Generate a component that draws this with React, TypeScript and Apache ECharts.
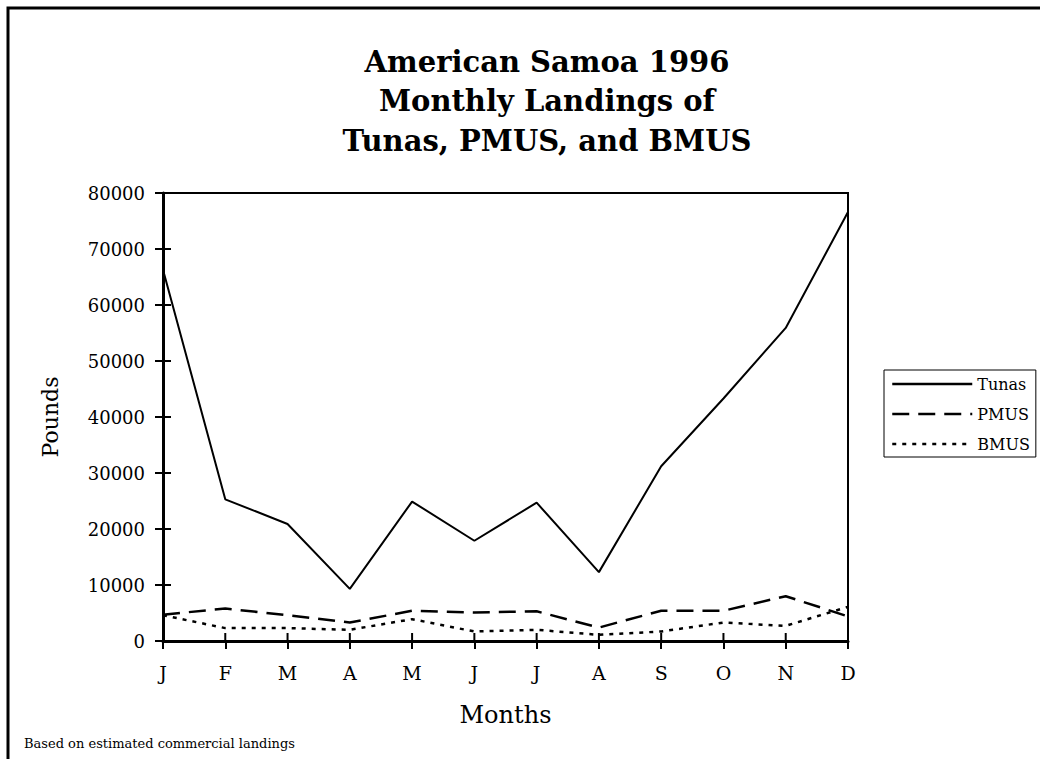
import React, { useEffect, useRef } from "react";
import * as echarts from "echarts";

const months = ["J", "F", "M", "A", "M", "J", "J", "A", "S", "O", "N", "D"];
const tunas = [66300, 25300, 20900, 9300, 24900, 17900, 24700, 12300, 31200, 43300, 55900, 76600];
const pmus = [4700, 5800, 4600, 3300, 5400, 5100, 5300, 2400, 5400, 5400, 8000, 4400];
const bmus = [4600, 2300, 2300, 2000, 3900, 1700, 2000, 1100, 1700, 3300, 2700, 6100];
const yTickValues = [0, 10000, 20000, 30000, 40000, 50000, 60000, 70000, 80000];
const titleText = "American Samoa 1996\nMonthly Landings of\nTunas, PMUS, and BMUS";
const footnote = "Based on estimated commercial landings";

const SERIF = "DejaVu Serif";

export default function App() {
  const ref = useRef<HTMLDivElement>(null);
  useEffect(() => {
    if (!ref.current) return;
    const chart = echarts.init(ref.current, null, { renderer: "svg" });
    const grid = { left: 163, top: 193, width: 685, height: 448 };
    const yMin = yTickValues[0];
    const yMax = yTickValues[yTickValues.length - 1];
    const yInterval = yTickValues[1] - yTickValues[0];
    const TICK_IN = 8;
    chart.setOption({
      animation: false,
      backgroundColor: "#fff",
      title: {
        text: titleText,
        left: 542,
        top: 37,
        textAlign: "center",
        textStyle: {
          fontFamily: SERIF,
          fontWeight: "bold",
          fontSize: 29,
          lineHeight: 39.5,
          color: "#000",
        },
      },
      legend: {
        orient: "vertical",
        left: 884,
        top: 370,
        padding: [6, 6, 5, 7],
        itemWidth: 80,
        itemHeight: 16,
        itemGap: 14,
        borderColor: "#000",
        borderWidth: 1,
        borderRadius: 0,
        itemStyle: { opacity: 0 },
        lineStyle: { width: 2.5 },
        textStyle: { fontFamily: SERIF, fontSize: 16, color: "#000" },
        data: ["Tunas", "PMUS", "BMUS"],
      },
      grid: { ...grid, show: true, borderColor: "#000", borderWidth: 2, containLabel: false },
      xAxis: {
        type: "category",
        data: months,
        boundaryGap: false,
        position: "bottom",
        name: "Months",
        nameLocation: "middle",
        nameGap: 62,
        nameTextStyle: { fontFamily: SERIF, fontSize: 24, color: "#000" },
        axisLine: { lineStyle: { color: "#000", width: 3 } },
        axisTick: { show: true, inside: false, length: 8, lineStyle: { color: "#000", width: 2 } },
        axisLabel: { fontFamily: SERIF, fontSize: 19, color: "#000", margin: 22 },
        splitLine: { show: false },
      },
      yAxis: {
        type: "value",
        min: yMin,
        max: yMax,
        interval: yInterval,
        position: "left",
        name: "Pounds",
        nameLocation: "middle",
        nameGap: 102,
        nameRotate: 90,
        nameTextStyle: { fontFamily: SERIF, fontSize: 22, color: "#000" },
        axisLine: { show: true, lineStyle: { color: "#000", width: 3 } },
        axisTick: { show: true, inside: false, length: 8, lineStyle: { color: "#000", width: 2 } },
        axisLabel: {
          fontFamily: SERIF,
          fontSize: 18,
          color: "#000",
          margin: 18,
          formatter: (v: number) => String(v),
        },
        splitLine: { show: false },
      },
      series: [
        {
          name: "Tunas",
          type: "line",
          data: tunas,
          symbol: "none",
          lineStyle: { color: "#000", width: 2, type: "solid" },
          itemStyle: { color: "#000" },
        },
        {
          name: "PMUS",
          type: "line",
          data: pmus,
          symbol: "none",
          lineStyle: { color: "#000", width: 2.5, type: [17, 9] },
          itemStyle: { color: "#000" },
        },
        {
          name: "BMUS",
          type: "line",
          data: bmus,
          symbol: "none",
          lineStyle: { color: "#000", width: 2.5, type: [4, 6] },
          itemStyle: { color: "#000" },
        },
        {
          name: "xTicksInner",
          type: "custom",
          silent: true,
          clip: false,
          data: months.map((_, i) => [i, yMin]),
          renderItem: (params: any, api: any) => {
            const p = api.coord([api.value(0), api.value(1)]);
            return {
              type: "line",
              shape: { x1: p[0], y1: p[1], x2: p[0], y2: p[1] - TICK_IN },
              style: { stroke: "#000", lineWidth: 2 },
            };
          },
        },
        {
          name: "yTicksInner",
          type: "custom",
          silent: true,
          clip: false,
          data: yTickValues.map((v) => [0, v]),
          renderItem: (params: any, api: any) => {
            const p = api.coord([api.value(0), api.value(1)]);
            return {
              type: "line",
              shape: { x1: p[0], y1: p[1], x2: p[0] + TICK_IN, y2: p[1] },
              style: { stroke: "#000", lineWidth: 2 },
            };
          },
        },
      ],
      graphic: [
        {
          type: "rect",
          shape: { x: 8, y: 8, width: 1200, height: 1000 },
          style: { fill: "none", stroke: "#000", lineWidth: 3 },
          silent: true,
        },
        {
          type: "text",
          left: 24,
          top: 737,
          style: { text: footnote, fontFamily: SERIF, fontSize: 13, fill: "#000" },
        },
      ],
    });
    return () => chart.dispose();
  }, []);
  return (
    <div
      ref={ref}
      style={{ position: "fixed", left: 0, top: 0, width: 1040, height: 759, overflow: "hidden" }}
    />
  );
}
